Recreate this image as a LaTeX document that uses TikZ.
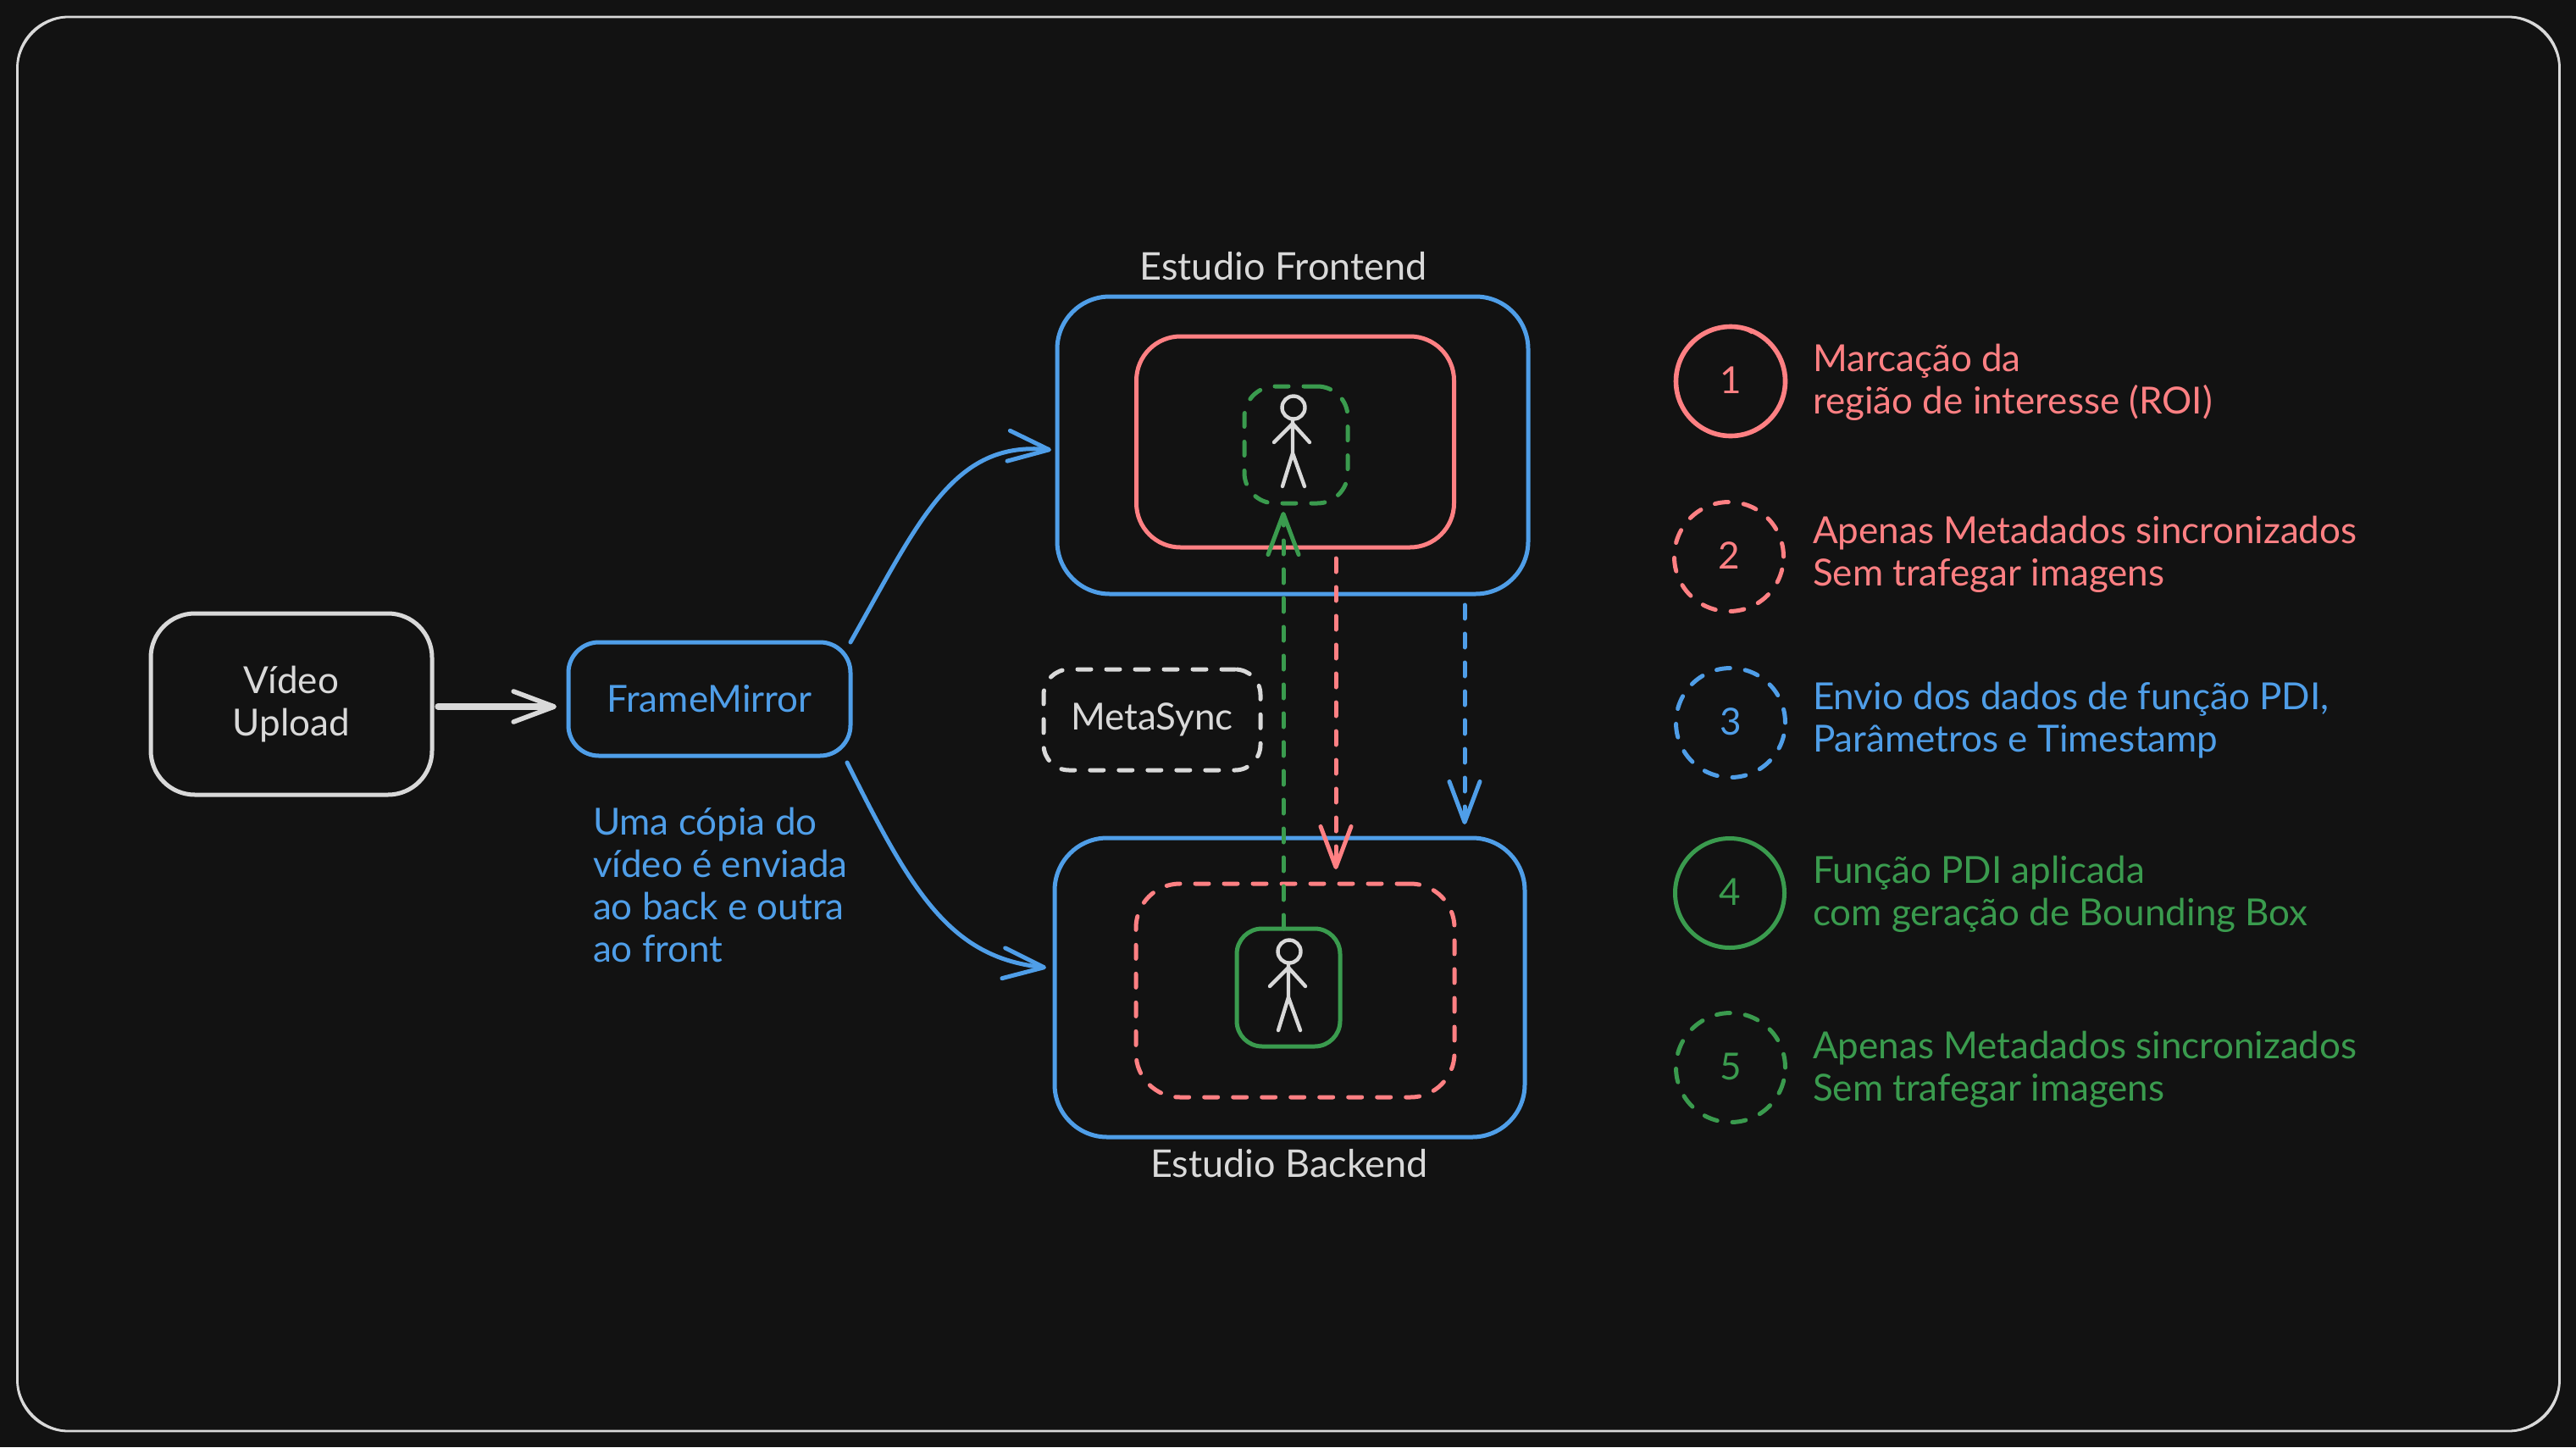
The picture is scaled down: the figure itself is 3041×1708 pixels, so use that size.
\documentclass[tikz,border=0pt]{standalone}
\usepackage{fontspec}
\setmainfont{Lato}
\usetikzlibrary{arrows.meta,calc}
\definecolor{bgc}{HTML}{121212}
\definecolor{wht}{HTML}{D9D9D9}
\definecolor{blu}{HTML}{4F9EE8}
\definecolor{rd}{HTML}{FF8083}
\definecolor{grn}{HTML}{3A9B4E}
\newcommand{\numr}[1]{\raisebox{1.5pt}{#1}}
\tikzset{
  bx/.style n args={3}{draw,rectangle,inner sep=0pt,outer sep=0pt,line width=2.5pt,
    minimum width=#1*0.5pt,minimum height=#2*0.5pt,rounded corners=#3*0.5pt},
  dsh/.style={dash pattern=on 8pt off 9pt,line cap=round},
  ring/.style={draw,circle,inner sep=0pt,outer sep=0pt,line width=2.5pt,minimum size=129*0.5pt,font=\fontsize{22}{25}\selectfont},
  txt/.style={inner sep=0pt,outer sep=0pt,align=left,anchor=base west,font=\fontsize{22}{25}\selectfont},
  ctr/.style={inner sep=0pt,outer sep=0pt,anchor=base,align=center,font=\fontsize{22.5}{25}\selectfont},
  boxfont/.style={font=\fontsize{22}{25}\selectfont},
  tipv/.style={-{Straight Barb[length=24pt,width=18pt,line width=2.5pt,round]}},
  conn/.style={line width=2.5pt,line cap=round},
  fig/.style={line width=2.2pt,wht,line cap=round,line join=round},
}
\newcommand{\stickman}[2]{%
  \begin{scope}[shift={(#1,#2)}]
    \draw[fig] (0,0) circle (13.5);
    \draw[fig] (-1,15) -- (-1,54) (-23,41) -- (-1,19) -- (19,41) (-13,93) -- (-1,54) (13,93) -- (-1,54);
  \end{scope}}
\begin{document}
\begin{tikzpicture}[x=0.5pt,y=-0.5pt]
\fill[bgc] (0,0) rectangle (3041,1708);
\useasboundingbox (0,0) rectangle (3041,1708);
% frame
\node[bx={3001}{1669}{60},wht,line width=1.4pt] (frame) at (1521,854.5) {};
\node[bx={3001}{1669}{64},wht,line width=0.7pt] (frameb) at (1521,854.5) {};
% boxes
\node[bx={332}{214}{52},wht,text=wht,align=center,boxfont] (video) at (344,831) {Vídeo\\Upload};
\node[bx={333}{134}{36},blu,text=blu,boxfont] (fm) at (837.5,825) {FrameMirror};
\node[bx={556}{351}{62},blu] (front) at (1526,525.5) {};
\node[bx={375}{249}{52},rd] (fred) at (1529,521.5) {};
\node[bx={122}{138}{36},grn,dsh] (fgreen) at (1530,525) {};
\node[bx={256}{119}{30},wht,dsh,text=wht,boxfont] (meta) at (1360,849.5) {MetaSync};
\node[bx={555}{353}{62},blu] (back) at (1522.5,1165.5) {};
\node[bx={376}{252}{52},rd,dsh] (bred) at (1529,1169) {};
\node[bx={122}{139}{30},grn] (bgreen) at (1521,1165.5) {};
\stickman{1527}{481}
\stickman{1522}{1123}
% titles
\node[ctr,text=wht] (tfront) at (1515,330) {Estudio Frontend};
\node[ctr,text=wht] (tback) at (1522,1389) {Estudio Backend};
% note
\node[txt,text=blu] (note) at (700,1135) {Uma cópia do\\vídeo é enviada\\ao back e outra\\ao front};
% connectors
\coordinate (wy) at (0,834);
\coordinate (gx) at (1515,0);
\coordinate (rx) at (1577,0);
\coordinate (bx) at (1729,0);
\coordinate (ftip) at (1241,531);
\coordinate (btip) at (1235,1142);
\draw[conn,wht,line width=3.6pt,-{Straight Barb[length=24pt,width=18pt,line width=2.8pt,round]},shorten <=7*0.5pt,shorten >=14*0.5pt] (video.east |- wy) -- (fm.west |- wy);
\draw[conn,blu,tipv] (fm.north east) .. controls (1085,615) and (1125,520) .. (ftip);
\draw[conn,blu,tipv] (fm.south east) ++(-4,8) .. controls (1075,1050) and (1120,1130) .. (btip);
\draw[conn,grn,dsh,tipv,shorten >=10*0.5pt] (bgreen.north -| gx) -- (fgreen.south -| gx);
\draw[conn,rd,dsh,tipv,shorten <=13*0.5pt,shorten >=17*0.5pt] (fred.south -| rx) -- (bred.north -| rx);
\draw[conn,blu,dsh,tipv,shorten <=13*0.5pt,shorten >=16*0.5pt] (front.south -| bx) -- (back.north -| bx);
% legend
\node[ring,rd,text=rd,line width=2.8pt] (c1) at (2043,450) {\numr{1}};
\draw[rd,line width=1.3pt,line cap=round] ($(c1.center)+(-47,-42)$) .. controls ($(c1.center)+(-30,-66)$) and ($(c1.center)+(5,-70)$) .. ($(c1.center)+(25,-57)$);
\node[ring,rd,dsh,text=rd] (c2) at (2041,657) {\numr{2}};
\node[ring,blu,dsh,text=blu] (c3) at (2043,853) {\numr{3}};
\node[ring,grn,text=grn] (c4) at (2042,1054) {\numr{4}};
\node[ring,grn,dsh,text=grn] (c5) at (2043,1260) {\numr{5}};
\node[txt,text=rd] (l1) at (2140,488) {Marcação da\\região de interesse (ROI)};
\node[txt,text=rd] (l2) at (2140,691) {Apenas Metadados sincronizados\\Sem trafegar imagens};
\node[txt,text=blu] (l3) at (2140,887) {Envio dos dados de função PDI,\\Parâmetros e Timestamp};
\node[txt,text=grn] (l4) at (2140,1092) {Função PDI aplicada\\com geração de Bounding Box};
\node[txt,text=grn] (l5) at (2140,1299) {Apenas Metadados sincronizados\\Sem trafegar imagens};
\end{tikzpicture}
\end{document}
